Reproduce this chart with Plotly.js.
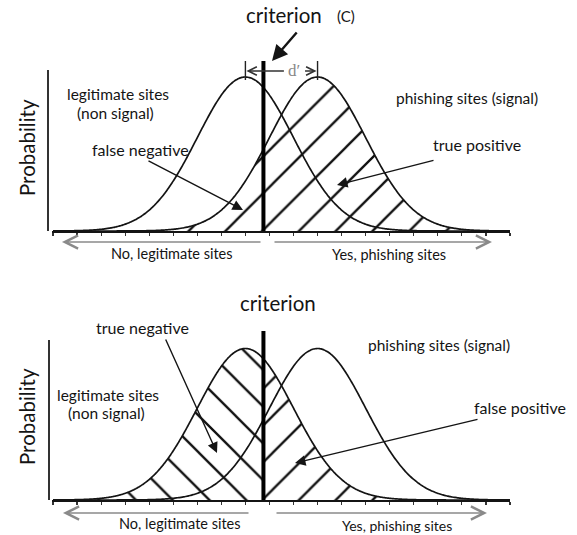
<!DOCTYPE html>
<html><head><meta charset="utf-8">
<script src="https://cdn.plot.ly/plotly-3.0.1.min.js"></script>
<style>html,body{margin:0;padding:0;background:#fff}</style>
</head><body><div id="chart" style="width:577px;height:535px"></div>
<script>
// ---- data (decision axis in tick units) ----
const distNames = ["legitimate sites (non signal)", "phishing sites (signal)"];
const distMeans = [8, 11];          // noise mean, signal mean (d' = 3 ticks)
const distSD = [2, 2];
const criterionTop = [8.75];
const criterionBottom = [8.75];
const tickVals = [0,1,2,3,4,5,6,7,8,9,10,11,12,13,14,15,16,17,18,19];
const axisLabels = ["No, legitimate sites", "Yes, phishing sites"];
const regionLabelsTop = ["false negative", "true positive"];
const regionLabelsBottom = ["true negative", "false positive"];

// ---- helpers ----
const W = 577, H = 535;
const px = p => p / W, py = p => 1 - p / H;
function pdf(x, m, s) { return Math.exp(-0.5 * ((x - m) / s) ** 2) / (s * Math.sqrt(2 * Math.PI)); }
function curve(m, s, lo, hi) {
  const xs = [], ys = [];
  const n = 300;
  for (let i = 0; i <= n; i++) { const x = lo + (hi - lo) * i / n; xs.push(x); ys.push(pdf(x, m, s)); }
  return {x: xs, y: ys};
}
const X0 = tickVals[0], X1 = tickVals[tickVals.length - 1];
const P = pdf(0, 0, distSD[0]);
const font = "Lato, 'Open Sans', sans-serif";
const ink = '#141414';
const lineStyle = {color: ink, width: 1.7, shape: 'spline'};
const pat = shape => ({shape: shape, size: 26, solidity: 0.09, fgcolor: '#111', bgcolor: 'rgba(0,0,0,0)'});

const sigTop = curve(distMeans[1], distSD[1], X0, X1);
const noiseTop = curve(distMeans[0], distSD[0], X0, X1);
const noiseL = curve(distMeans[0], distSD[0], X0, criterionBottom[0]);
const noiseR = curve(distMeans[0], distSD[0], criterionBottom[0], X1);
const sigBot = curve(distMeans[1], distSD[1], X0, X1);

const traces = [
  {x: sigTop.x, y: sigTop.y, xaxis: 'x', yaxis: 'y', mode: 'lines', line: lineStyle, fill: 'tozeroy', fillcolor: 'rgba(0,0,0,0)', fillpattern: pat('/'), name: distNames[1]},
  {x: noiseTop.x, y: noiseTop.y, xaxis: 'x', yaxis: 'y', mode: 'lines', line: lineStyle, name: distNames[0]},
  {x: noiseL.x, y: noiseL.y, xaxis: 'x2', yaxis: 'y2', mode: 'lines', line: lineStyle, fill: 'tozeroy', fillcolor: 'rgba(0,0,0,0)', fillpattern: pat('\\'), name: distNames[0]},
  {x: noiseR.x, y: noiseR.y, xaxis: 'x2', yaxis: 'y2', mode: 'lines', line: lineStyle, fill: 'tozeroy', fillcolor: 'rgba(0,0,0,0)', fillpattern: pat('/'), name: distNames[0]},
  {x: sigBot.x, y: sigBot.y, xaxis: 'x2', yaxis: 'y2', mode: 'lines', line: lineStyle, name: distNames[1]}
];

const tickStep = 24.05, tick0px = 53;
const xr = [(52 - tick0px) / tickStep, (510 - tick0px) / tickStep];
const xax = (anchor) => ({domain: [px(52), px(510)], range: xr, anchor: anchor, showline: true, linecolor: ink, linewidth: 2,
  ticks: 'outside', ticklen: 3, tickwidth: 1.2, tickcolor: '#333', tickvals: tickVals, showticklabels: false,
  showgrid: false, zeroline: false, fixedrange: true});

function txt(t, x, y, size, extra) {
  return Object.assign({text: t, xref: 'paper', yref: 'paper', x: px(x), y: py(y), xanchor: 'center', yanchor: 'middle',
    showarrow: false, font: {family: font, size: size, color: ink}}, extra || {});
}
function arr(hx, hy, tx, ty, extra) {
  return Object.assign({text: '', xref: 'paper', yref: 'paper', x: px(hx), y: py(hy), ax: tx - hx, ay: ty - hy,
    showarrow: true, arrowhead: 2, arrowsize: 1.5, arrowwidth: 1.4, arrowcolor: ink, standoff: 0}, extra || {});
}
const grayArrow = {arrowhead: 5, arrowsize: 2, arrowwidth: 1.3, arrowcolor: '#8a8a8a'};

const annotations = [
  // top panel
  txt('criterion', 284, 15, 20.5),
  txt('(C)', 346, 16, 15),
  arr(272, 61, 298, 31, {arrowwidth: 2.4, arrowsize: 1.3}),
  txt('legitimate sites', 118, 94, 15.5),
  txt('(non signal)', 115, 113, 15.5),
  txt('phishing sites (signal)', 467, 98, 15.5),
  txt(regionLabelsTop[0], 140, 149, 16),
  txt(regionLabelsTop[1], 477, 145, 16),
  arr(243, 210, 147, 160),
  arr(337, 185, 435, 160),
  txt('Probability', 27, 148, 20.5, {textangle: -90}),
  txt(axisLabels[0], 172, 254, 14.5),
  txt(axisLabels[1], 389, 255, 14.5),
  arr(62, 242, 262, 242, grayArrow),
  arr(492, 242, 273, 242, grayArrow),
  // d' marker
  {text: '', xref: 'x', yref: 'paper', x: distMeans[0], y: py(71), ax: 40, ay: 0, showarrow: true, arrowhead: 5, arrowsize: 1.3, arrowwidth: 1.3, arrowcolor: '#333', standoff: 1},
  {text: '', xref: 'x', yref: 'paper', x: distMeans[1], y: py(71), ax: -14, ay: 0, showarrow: true, arrowhead: 5, arrowsize: 1.3, arrowwidth: 1.3, arrowcolor: '#333', standoff: 1},
  {text: 'd\u2032', xref: 'paper', yref: 'paper', x: px(294), y: py(70), showarrow: false, xanchor: 'center', yanchor: 'middle',
    font: {family: "'Liberation Serif', 'DejaVu Serif', serif", size: 17, color: '#888'}, bgcolor: '#fff', borderpad: 0},
  // bottom panel
  txt('criterion', 278, 303, 20.5),
  txt(regionLabelsBottom[0], 142, 327, 16),
  arr(217, 453, 165, 338),
  txt('phishing sites (signal)', 439, 345, 15.5),
  txt('legitimate sites', 108, 395, 15.5),
  txt('(non signal)', 106, 413, 15.5),
  txt(regionLabelsBottom[1], 520, 407, 16),
  arr(295, 463, 479, 419),
  txt('Probability', 27, 417, 20.5, {textangle: -90}),
  txt(axisLabels[0], 180, 523, 14.5),
  txt(axisLabels[1], 397, 525, 14),
  arr(63, 513, 250, 513, grayArrow),
  arr(487, 513, 275, 513, grayArrow)
];

const shapes = [
  // y axis lines
  {type: 'line', xref: 'paper', yref: 'paper', x0: px(48), x1: px(48), y0: py(70), y1: py(231), line: {color: '#333', width: 2}},
  {type: 'line', xref: 'paper', yref: 'paper', x0: px(49), x1: px(49), y0: py(340), y1: py(500), line: {color: '#333', width: 2}},
  // criterion lines
  {type: 'line', xref: 'x', yref: 'paper', x0: criterionTop[0], x1: criterionTop[0], y0: py(61), y1: py(231), line: {color: '#000', width: 4}},
  {type: 'line', xref: 'x2', yref: 'paper', x0: criterionBottom[0], x1: criterionBottom[0], y0: py(331), y1: py(500), line: {color: '#000', width: 4}},
  // d' ticks at the two means
  {type: 'line', xref: 'x', yref: 'paper', x0: distMeans[0], x1: distMeans[0], y0: py(61), y1: py(80), line: {color: '#222', width: 1.4}},
  {type: 'line', xref: 'x', yref: 'paper', x0: distMeans[1], x1: distMeans[1], y0: py(61), y1: py(80), line: {color: '#222', width: 1.4}}
];

const layout = {
  width: W, height: H, margin: {l: 0, r: 0, t: 0, b: 0}, showlegend: false,
  paper_bgcolor: '#fff', plot_bgcolor: 'rgba(0,0,0,0)',
  xaxis: xax('y'), xaxis2: xax('y2'),
  yaxis: {domain: [py(231), 1], range: [0, 231 * P / 154], visible: false, fixedrange: true},
  yaxis2: {domain: [py(500), py(269)], range: [0, 231 * P / 151.5], visible: false, fixedrange: true},
  annotations: annotations, shapes: shapes, font: {family: font, color: ink}
};
Plotly.newPlot('chart', traces, layout, {displayModeBar: false, staticPlot: true});
</script></body></html>
